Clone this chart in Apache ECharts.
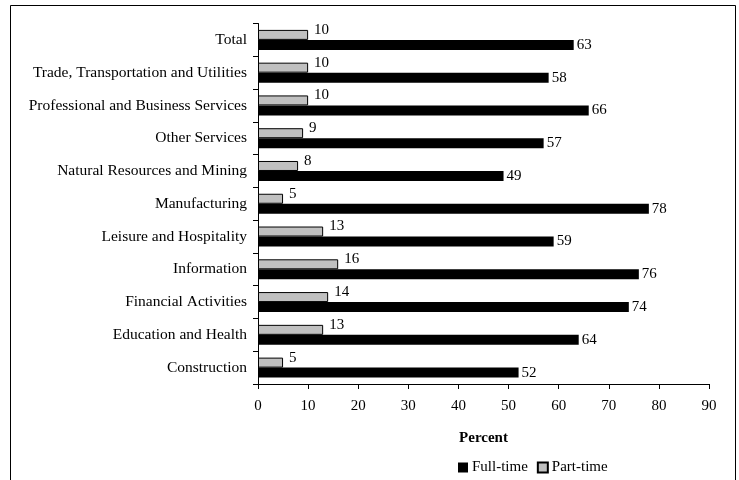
<!DOCTYPE html>
<html><head><meta charset="utf-8">
<script src="https://cdn.jsdelivr.net/npm/echarts@6/dist/echarts.min.js"></script>
<style>html,body{margin:0;padding:0;background:#fff}#c{width:739px;height:480px}</style>
</head><body><div id="c"></div>
<script>
const categories = ["Construction","Education and Health","Financial Activities","Information","Leisure and Hospitality","Manufacturing","Natural Resources and Mining","Other Services","Professional and Business Services","Trade, Transportation and Utilities","Total"];
const fullTime = [52,64,74,76,59,78,49,57,66,58,63];
const partTime = [5,13,14,16,13,5,8,9,10,10,10];
const xTicks = {min:0,max:90,interval:10};
const FONT = "Liberation Serif";
const FS = 15;
const chart = echarts.init(document.getElementById('c'), null, {renderer:'canvas'});
chart.setOption({
  animation:false,
  backgroundColor:'#fff',
  textStyle:{fontFamily:FONT,color:'#000'},
  graphic:[{type:'rect',shape:{x:10.5,y:5.5,width:725,height:480},style:{fill:'none',stroke:'#000',lineWidth:1},silent:true}],
  grid:{left:258,right:30,top:23.5,bottom:96,containLabel:false},
  legend:{data:['Full-time','Part-time'],left:453,top:455,itemWidth:10,itemHeight:10,itemGap:9,icon:'rect',
    textStyle:{fontFamily:FONT,fontSize:FS,color:'#000',padding:[0,0,0,-1]}},
  xAxis:{type:'value',min:xTicks.min,max:xTicks.max,interval:xTicks.interval,
    name:'Percent',nameLocation:'middle',nameGap:47,nameTextStyle:{fontFamily:FONT,fontSize:FS,fontWeight:'bold',color:'#000'},
    axisLine:{show:true,lineStyle:{color:'#000',width:1}},axisTick:{show:true,length:5,lineStyle:{color:'#000'}},
    axisLabel:{fontFamily:FONT,fontSize:FS,color:'#000',margin:15},splitLine:{show:false}},
  yAxis:{type:'category',data:categories,
    axisLine:{lineStyle:{color:'#000',width:1}},axisTick:{show:true,length:5,lineStyle:{color:'#000'}},
    axisLabel:{fontFamily:FONT,fontSize:15.5,color:'#000',margin:11}},
  series:[
    {name:'Part-time',type:'bar',data:partTime,barGap:'0%',barCategoryGap:'39%',
     itemStyle:{color:'#c0c0c0',borderColor:'#000',borderWidth:1},
     label:{show:true,position:'right',distance:6,offset:[0,-5],fontFamily:FONT,fontSize:FS,color:'#000'}},
    {name:'Full-time',type:'bar',data:fullTime,barGap:'0%',barCategoryGap:'39%',
     itemStyle:{color:'#000'},
     label:{show:true,position:'right',distance:3,fontFamily:FONT,fontSize:FS,color:'#000'}}
  ]
});
</script></body></html>
